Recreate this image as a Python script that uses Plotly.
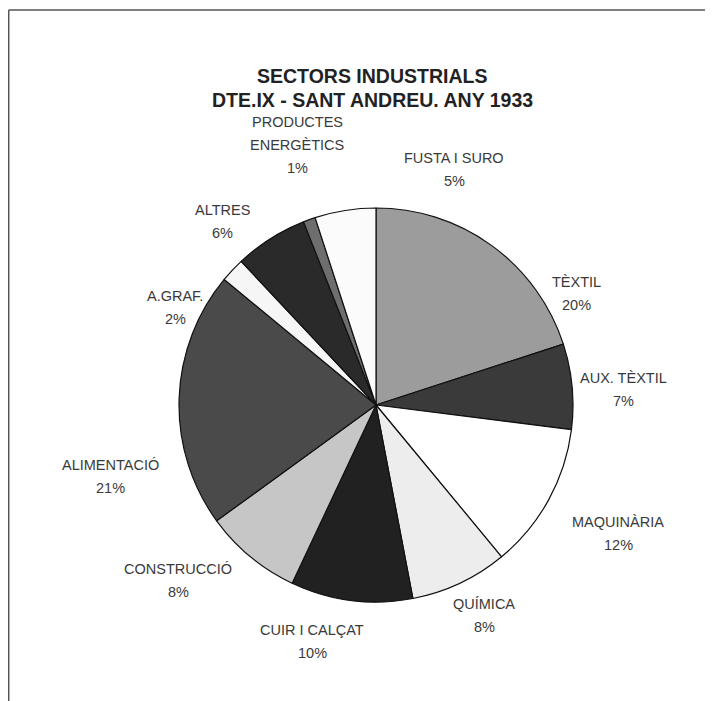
import plotly.graph_objects as go

W, H = 713, 701
OFF = 8  # browser body margin

sectors = ["TÈXTIL", "AUX. TÈXTIL", "MAQUINÀRIA", "QUÍMICA", "CUIR I CALÇAT",
           "CONSTRUCCIÓ", "ALIMENTACIÓ", "A.GRAF.", "ALTRES",
           "PRODUCTES<br>ENERGÈTICS", "FUSTA I SURO"]
percent = [20, 7, 12, 8, 10, 8, 21, 2, 6, 1, 5]
title_lines = ["SECTORS INDUSTRIALS", "DTE.IX - SANT ANDREU. ANY 1933"]

colors = ["#9c9c9c", "#3a3a3a", "#ffffff", "#ededed", "#212121",
          "#c6c6c6", "#4a4a4a", "#f6f6f6", "#2a2a2a", "#6e6e6e", "#fbfbfb"]

# label positions (pixels: centre x, first-line y) - styling only
label_pos = [(576, 282), (623, 378), (618, 522), (484, 604), (312, 630),
             (178, 569), (110, 465), (175, 296), (222, 210), (297, 122), (454, 158)]
LINE = 23

cx, cy, r = 376 - OFF, 405 - OFF, 197

def px(x):
    return (x - OFF) / W

def py(y):
    return 1 - (y - OFF) / H

fig = go.Figure(go.Pie(
    labels=[s.replace("<br>", " ") for s in sectors],
    values=percent,
    sort=False,
    direction="clockwise",
    rotation=0,
    textinfo="none",
    hoverinfo="label+percent",
    marker=dict(colors=colors, line=dict(color="#111111", width=1.2)),
    domain=dict(x=[(cx - r) / W, (cx + r) / W], y=[1 - (cy + r) / H, 1 - (cy - r) / H]),
    showlegend=False,
))

annotations = []
lab_font = dict(family="Liberation Sans, Arial", size=14.5, color="#3a3a3a")
for name, v, (x0, y0) in zip(sectors, percent, label_pos):
    lines = name.split("<br>") + [f"{v}%"]
    for i, t in enumerate(lines):
        annotations.append(dict(
            x=px(x0), y=py(y0 + i * LINE), xref="paper", yref="paper",
            text=t, showarrow=False, xanchor="center", yanchor="middle",
            font=lab_font,
        ))

for i, t in enumerate(title_lines):
    annotations.append(dict(
        x=px(372), y=py(76 + i * 24), xref="paper", yref="paper",
        text=f"<b>{t}</b>", showarrow=False, xanchor="center", yanchor="middle",
        font=dict(family="Liberation Sans, Arial", size=19.5, color="#222222"),
    ))

fig.update_layout(
    width=W, height=H,
    margin=dict(l=0, r=0, t=0, b=0),
    paper_bgcolor="white", plot_bgcolor="white",
    annotations=annotations,
    shapes=[
        dict(type="line", xref="paper", yref="paper", x0=0.001, x1=1, y0=py(10), y1=py(10),
             line=dict(color="#555555", width=1.5)),
        dict(type="line", xref="paper", yref="paper", x0=0.001, x1=0.001, y0=0, y1=py(10),
             line=dict(color="#555555", width=1.5)),
    ],
)

fig.write_html("out.html")
